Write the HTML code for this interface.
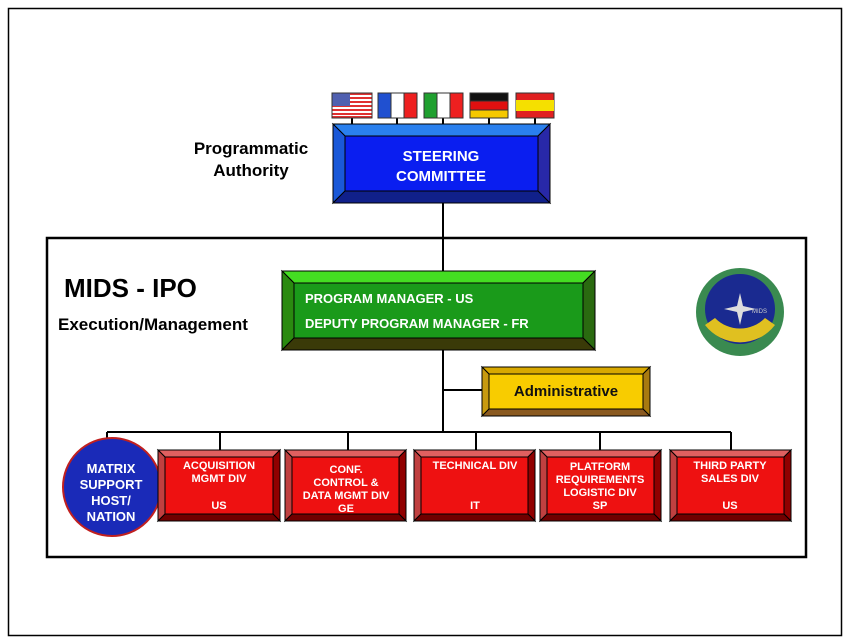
<!DOCTYPE html>
<html><head><style>body{margin:0;background:#fff}svg{display:block}</style></head><body>
<svg width="850" height="643" viewBox="0 0 850 643" xmlns="http://www.w3.org/2000/svg" font-family="Liberation Sans, Arial, sans-serif" font-weight="bold">
<rect x="0" y="0" width="850" height="643" fill="#fff"/>
<rect x="8.5" y="8.5" width="833" height="627" fill="none" stroke="#000" stroke-width="1.5"/>
<rect x="47" y="238" width="759" height="319" fill="none" stroke="#000" stroke-width="2.5"/>
<g stroke="#000" stroke-width="2" fill="none">
<line x1="352" y1="118" x2="352" y2="124"/><line x1="397" y1="118" x2="397" y2="124"/><line x1="443" y1="118" x2="443" y2="124"/><line x1="489" y1="118" x2="489" y2="124"/><line x1="535" y1="118" x2="535" y2="124"/>
<line x1="443" y1="203" x2="443" y2="271"/>
<line x1="443" y1="350" x2="443" y2="432"/>
<line x1="443" y1="390" x2="482" y2="390"/>
<line x1="107" y1="432" x2="731" y2="432"/>
<line x1="107" y1="432" x2="107" y2="445"/>
<line x1="220" y1="432" x2="220" y2="450"/>
<line x1="348" y1="432" x2="348" y2="450"/>
<line x1="476" y1="432" x2="476" y2="450"/>
<line x1="600" y1="432" x2="600" y2="450"/>
<line x1="731" y1="432" x2="731" y2="450"/>
</g>
<!-- flags -->
<g stroke="#333" stroke-width="1">
<rect x="332" y="93" width="40" height="25" fill="#fff"/>
<g fill="#e03030" stroke="none"><rect x="332" y="93" width="40" height="2"/><rect x="332" y="97" width="40" height="2"/><rect x="332" y="101" width="40" height="2"/><rect x="332" y="105" width="40" height="2"/><rect x="332" y="109" width="40" height="2"/><rect x="332" y="113" width="40" height="2"/><rect x="332" y="116" width="40" height="2"/></g>
<rect x="332" y="93" width="18" height="13" fill="#5060b0" stroke="none"/>
<rect x="332" y="93" width="40" height="25" fill="none"/>
<rect x="378" y="93" width="13" height="25" fill="#2050d0"/><rect x="391" y="93" width="13" height="25" fill="#fff"/><rect x="404" y="93" width="13" height="25" fill="#ee2020"/>
<rect x="424" y="93" width="13" height="25" fill="#20a030"/><rect x="437" y="93" width="13" height="25" fill="#fff"/><rect x="450" y="93" width="13" height="25" fill="#ee2020"/>
<rect x="470" y="93" width="38" height="8" fill="#111"/><rect x="470" y="101" width="38" height="9" fill="#e01010"/><rect x="470" y="110" width="38" height="8" fill="#f5c800"/>
<rect x="516" y="93" width="38" height="25" fill="#e02020"/><rect x="516" y="100" width="38" height="11" fill="#f5e000" stroke="none"/>
</g>
<!-- steering -->
<g stroke="#000" stroke-width="1">
<polygon points="333,124 550,124 538,136 345,136" fill="#2a80ee"/>
<polygon points="333,124 345,136 345,191 333,203" fill="#1a58d8"/>
<polygon points="550,124 550,203 538,191 538,136" fill="#2828a8"/>
<polygon points="333,203 345,191 538,191 550,203" fill="#10208a"/>
<rect x="345" y="136" width="193" height="55" fill="#0a1ef0"/>
</g>
<text x="441" y="161" fill="#fff" font-size="15" text-anchor="middle">STEERING</text>
<text x="441" y="181" fill="#fff" font-size="15" text-anchor="middle">COMMITTEE</text>
<!-- green -->
<g stroke="#000" stroke-width="1">
<polygon points="282,271 595,271 583,283 294,283" fill="#44dd22"/>
<polygon points="282,271 294,283 294,338 282,350" fill="#2a8a10"/>
<polygon points="595,271 595,350 583,338 583,283" fill="#2a6a10"/>
<polygon points="282,350 294,338 583,338 595,350" fill="#3a3a08"/>
<rect x="294" y="283" width="289" height="55" fill="#1a9a1a"/>
</g>
<text x="305" y="303" fill="#fff" font-size="13">PROGRAM MANAGER - US</text>
<text x="305" y="328" fill="#fff" font-size="13">DEPUTY PROGRAM MANAGER - FR</text>
<!-- admin -->
<g stroke="#000" stroke-width="1">
<polygon points="482,367 650,367 643,374 489,374" fill="#d8a800"/>
<polygon points="482,367 489,374 489,409 482,416" fill="#c89a10"/>
<polygon points="650,367 650,416 643,409 643,374" fill="#a87a10"/>
<polygon points="482,416 489,409 643,409 650,416" fill="#8a5a20"/>
<rect x="489" y="374" width="154" height="35" fill="#f8cc00"/>
</g>
<text x="566" y="396" fill="#111" font-size="15" text-anchor="middle">Administrative</text>
<!-- circle -->
<circle cx="112" cy="487" r="49" fill="#1a2ab8" stroke="#c02020" stroke-width="2"/>
<g fill="#fff" font-size="13" text-anchor="middle">
<text x="111" y="473">MATRIX</text><text x="111" y="489">SUPPORT</text><text x="111" y="505">HOST/</text><text x="111" y="521">NATION</text>
</g>
<!-- red boxes -->
<defs>
<g id="rb">
<polygon points="0,0 1,0 1,1 0,1" fill="none"/>
</g>
</defs>
<g stroke="#000" stroke-width="1">
<g transform="translate(158,450)">
<polygon points="0,0 122,0 115,7 7,7" fill="#e06060"/><polygon points="0,0 7,7 7,64 0,71" fill="#c04040"/><polygon points="122,0 122,71 115,64 115,7" fill="#900000"/><polygon points="0,71 7,64 115,64 122,71" fill="#700000"/><rect x="7" y="7" width="108" height="57" fill="#ee1111"/></g>
<g transform="translate(285,450)">
<polygon points="0,0 121,0 114,7 7,7" fill="#e06060"/><polygon points="0,0 7,7 7,64 0,71" fill="#c04040"/><polygon points="121,0 121,71 114,64 114,7" fill="#900000"/><polygon points="0,71 7,64 114,64 121,71" fill="#700000"/><rect x="7" y="7" width="107" height="57" fill="#ee1111"/></g>
<g transform="translate(414,450)">
<polygon points="0,0 121,0 114,7 7,7" fill="#e06060"/><polygon points="0,0 7,7 7,64 0,71" fill="#c04040"/><polygon points="121,0 121,71 114,64 114,7" fill="#900000"/><polygon points="0,71 7,64 114,64 121,71" fill="#700000"/><rect x="7" y="7" width="107" height="57" fill="#ee1111"/></g>
<g transform="translate(540,450)">
<polygon points="0,0 121,0 114,7 7,7" fill="#e06060"/><polygon points="0,0 7,7 7,64 0,71" fill="#c04040"/><polygon points="121,0 121,71 114,64 114,7" fill="#900000"/><polygon points="0,71 7,64 114,64 121,71" fill="#700000"/><rect x="7" y="7" width="107" height="57" fill="#ee1111"/></g>
<g transform="translate(670,450)">
<polygon points="0,0 121,0 114,7 7,7" fill="#e06060"/><polygon points="0,0 7,7 7,64 0,71" fill="#c04040"/><polygon points="121,0 121,71 114,64 114,7" fill="#900000"/><polygon points="0,71 7,64 114,64 121,71" fill="#700000"/><rect x="7" y="7" width="107" height="57" fill="#ee1111"/></g>
</g>
<g fill="#fff" font-size="11" text-anchor="middle">
<text x="219" y="469">ACQUISITION</text><text x="219" y="482">MGMT DIV</text><text x="219" y="509">US</text>
<text x="346" y="473">CONF.</text><text x="346" y="486">CONTROL &amp;</text><text x="346" y="499">DATA MGMT DIV</text><text x="346" y="512">GE</text>
<text x="475" y="469">TECHNICAL DIV</text><text x="475" y="509">IT</text>
<text x="600" y="470">PLATFORM</text><text x="600" y="483">REQUIREMENTS</text><text x="600" y="496">LOGISTIC DIV</text><text x="600" y="509">SP</text>
<text x="730" y="469">THIRD PARTY</text><text x="730" y="482">SALES DIV</text><text x="730" y="509">US</text>
</g>
<!-- logo -->
<circle cx="740" cy="312" r="44" fill="#3a8a50"/>
<circle cx="740" cy="309" r="35" fill="#1a2a90"/>
<path d="M705,325 A44,44 0 0 0 775,325 L765,318 A35,35 0 0 1 715,318 Z" fill="#e0c020"/>
<path d="M740,293 L743,306 L756,309 L743,312 L740,325 L737,312 L724,309 L737,306 Z" fill="#ddd"/>
<text x="752" y="313" fill="#ccc" font-size="6" font-weight="normal">MIDS</text>
<!-- labels -->
<g fill="#000">
<text x="251" y="154" font-size="17" text-anchor="middle">Programmatic</text>
<text x="251" y="176" font-size="17" text-anchor="middle">Authority</text>
<text x="64" y="297" font-size="26">MIDS - IPO</text>
<text x="58" y="330" font-size="17">Execution/Management</text>
</g>
</svg>
</body></html>
